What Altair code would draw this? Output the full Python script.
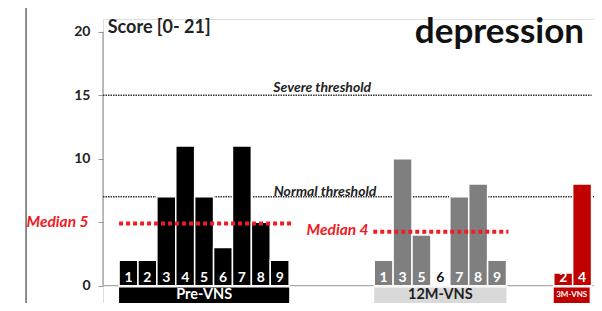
import altair as alt
import pandas as pd

# ---- data ----
pre_ids = [1, 2, 3, 4, 5, 6, 7, 8, 9]
pre_vals = [2, 2, 7, 11, 7, 3, 11, 5, 2]
m12_ids = [1, 3, 5, 6, 7, 8, 9]
m12_vals = [2, 10, 4, 0, 7, 8, 2]
m3_ids = [2, 4]
m3_vals = [1, 8]

groups = ["Pre-VNS", "12M-VNS", "3M-VNS"]
group_colors = ["#000000", "#7f7f7f", "#c00000"]
box_colors = ["#000000", "#d9d9d9", "#c00000"]
box_text_colors = ["#ffffff", "#222222", "#ffffff"]
box_font_sizes = [14.5, 14.5, 8]

y_ticks = [0, 5, 10, 15, 20]
severe_threshold = 15
normal_threshold = 7
median_vals = [4.9, 4.25]
median_labels = ["Median 5", "Median 4"]

# layout (slot units along x, one slot = one bar)
group_start = [0, 13.5, 23.0]
X_MIN = -0.85
PX_PER_SLOT = 18.9
PX_PER_UNIT = 12.7
W, H = 491, 284
X_MAX = X_MIN + W / PX_PER_SLOT
Y_MAX = 21
Y_MIN = Y_MAX - H / PX_PER_UNIT
FONT = "Lato"

rows = []
for g, start, ids, vals in zip(groups, group_start,
                               [pre_ids, m12_ids, m3_ids],
                               [pre_vals, m12_vals, m3_vals]):
    for i, (pid, v) in enumerate(zip(ids, vals)):
        rows.append(dict(group=g, pid=str(pid), value=v, x=start + i, x2=start + i + 1,
                         xc=start + i + 0.5,
                         tcol="#ffffff" if v > 0 else "#111111"))
bars = pd.DataFrame(rows)

boxes = pd.DataFrame(dict(
    group=groups,
    x=group_start,
    x2=[group_start[0] + len(pre_ids), group_start[1] + len(m12_ids),
        group_start[2] + len(m3_ids) - 0.1],
))
boxes["xc"] = (boxes.x + boxes.x2) / 2
boxes["fill"] = box_colors
boxes["tcol"] = box_text_colors
boxes["fs"] = box_font_sizes

xs = alt.Scale(domain=[X_MIN, X_MAX], nice=False, zero=False)
ys = alt.Scale(domain=[Y_MIN, Y_MAX], nice=False, zero=False)
yaxis = alt.Axis(values=y_ticks, domain=False, grid=False, tickColor="#999999",
                 tickSize=5, tickWidth=1, labelFontWeight="bold", labelFontSize=14,
                 labelColor="#222222", labelPadding=8, labelFont=FONT, title=None,
                 labelExpr="datum.value == 5 ? '' : datum.label")


def X(f="x"):
    return alt.X(f"{f}:Q", scale=xs, axis=None)


def Y(f="y"):
    return alt.Y(f"{f}:Q", scale=ys, axis=yaxis)


base = alt.Chart(bars)

# left frame edge seen in the screenshot
frame_left = alt.Chart(pd.DataFrame({"x": [-4.92], "y": [22], "y2": [-3]})).mark_rule(
    color="#666666", strokeWidth=1.5).encode(x=X(), y=Y(), y2="y2:Q")

# axis line and baseline
axis_line = alt.Chart(pd.DataFrame({"x": [X_MIN], "y": [0], "y2": [20]})).mark_rule(
    color="#999999", strokeWidth=1.2).encode(x=X(), y=Y(), y2="y2:Q")
baseline = alt.Chart(pd.DataFrame({"x": [X_MIN], "x2": [26], "y": [0]})).mark_rule(
    color="#aaaaaa", strokeWidth=1.2).encode(x=X(), x2="x2:Q", y=Y())

# thresholds
thr = pd.DataFrame({"x": [X_MIN, X_MIN], "x2": [25.0, 26],
                    "y": [severe_threshold, normal_threshold]})
thr_rules = alt.Chart(thr).mark_rule(color="#333333", strokeWidth=1.6,
                                     strokeDash=[1.5, 1]).encode(x=X(), x2="x2:Q", y=Y())
thr_text = alt.Chart(pd.DataFrame({"x": [10.75, 10.9], "y": [15.25, 7.1],
                                   "t": ["Severe threshold", "Normal threshold"]})).mark_text(
    font=FONT, fontSize=14, fontWeight="bold", fontStyle="italic", color="#222222",
    baseline="alphabetic", align="center").encode(x=X(), y=Y(), text="t:N")

# bars
bar_marks = base.mark_rect(stroke="#ffffff", strokeWidth=1.5).encode(
    x=X(), x2="x2:Q", y=alt.Y("value:Q", scale=ys, axis=yaxis), y2=alt.datum(0),
    color=alt.Color("group:N", scale=alt.Scale(domain=groups, range=group_colors), legend=None))
bar_nums = base.mark_text(font=FONT, fontSize=14, fontWeight="bold", baseline="middle").encode(
    x=X("xc"), y=alt.datum(0.62), text="pid:N",
    color=alt.Color("tcol:N", scale=None))

# group boxes
box_marks = alt.Chart(boxes).mark_rect().encode(
    x=X(), x2="x2:Q", y=alt.datum(-0.15), y2=alt.datum(Y_MIN),
    color=alt.Color("fill:N", scale=None))
box_text = alt.Chart(boxes).mark_text(font=FONT, fontWeight="bold", baseline="middle").encode(
    x=X("xc"), y=alt.datum(-0.76), text="group:N",
    color=alt.Color("tcol:N", scale=None), size=alt.Size("fs:Q", scale=None))

# medians
med = pd.DataFrame({"x": [0, 13.45], "x2": [9.1, 20.6], "y": median_vals,
                    "tx": [-1.62, 13.2], "ty": [5.05, 4.4], "t": median_labels})
med_rules = alt.Chart(med).mark_rule(color="#ee1c25", strokeWidth=4, strokeDash=[4, 3]).encode(
    x=X(), x2="x2:Q", y=Y())
med_text = alt.Chart(med).mark_text(font=FONT, fontSize=15.5, fontWeight="bold", fontStyle="italic",
                                    color="#ee1c25", align="right", baseline="middle").encode(
    x=X("tx"), y=Y("ty"), text="t:N")

# titles
score = alt.Chart(pd.DataFrame({"x": [-0.6], "y": [20.3], "t": ["Score [0- 21]"]})).mark_text(
    font=FONT, fontSize=18, fontWeight="bold", color="#222222", align="left", baseline="middle"
).encode(x=X(), y=Y(), text="t:N")
title = alt.Chart(pd.DataFrame({"x": [24.6], "y": [19.1], "t": ["depression"]})).mark_text(
    font=FONT, fontSize=35, fontWeight="bold", color="#111111", align="right",
    baseline="alphabetic").encode(x=X(), y=Y(), text="t:N")

chart = alt.layer(
    frame_left, baseline, axis_line, thr_rules, thr_text,
    bar_marks, bar_nums, box_marks, box_text, med_rules, med_text, score, title
).properties(
    width=W, height=H,
    autosize=alt.AutoSizeParams(type="none"),
    padding={"left": 95, "top": 11, "right": 0, "bottom": 0},
).configure_view(stroke=None).configure(background="#ffffff")

chart.save("out.html", embed_options={"renderer": "svg", "actions": False})
